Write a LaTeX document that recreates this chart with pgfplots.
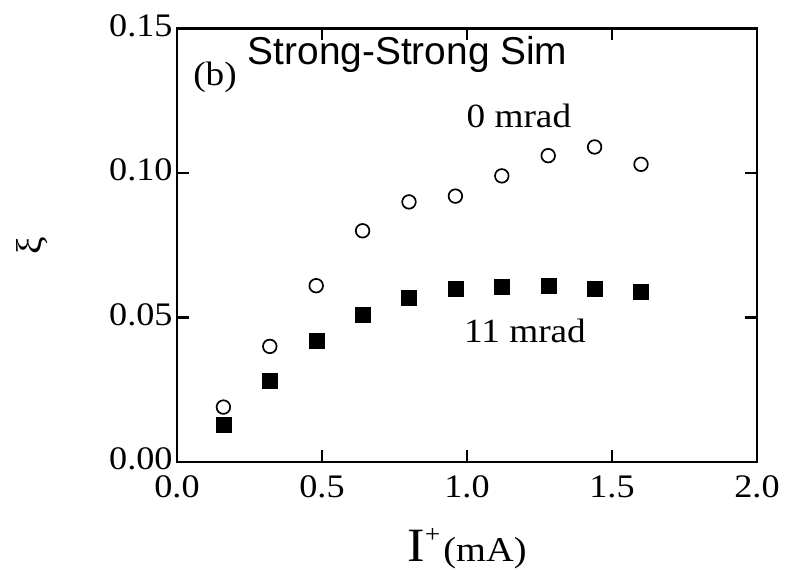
\documentclass[border=0pt]{standalone}
\usepackage{fontspec}
\setmainfont{Liberation Serif}[FakeStretch=1.1]
\newfontfamily\sansf{Liberation Sans}
\usepackage{pgfplots}
\pgfplotsset{compat=1.18}
\begin{document}
\begin{tikzpicture}[x=1bp,y=1bp]
\begin{axis}[
  at={(0,0)}, anchor=south west, scale only axis,
  width=580bp, height=433.5bp,
  xmin=0, xmax=2, ymin=0, ymax=0.15,
  clip=false,
  xtick={0,0.5,1,1.5,2},
  ytick={0,0.05,0.1,0.15},
  xticklabels={0.0,0.5,1.0,1.5,2.0},
  yticklabels={0.00,0.05,0.10,0.15},
  tick align=inside, major tick length=12bp,
  axis line style={line width=2.5bp},
  every tick/.style={line width=2.5bp, black},
  tick label style={font=\fontsize{33}{33}\selectfont},
  xticklabel style={yshift=-10bp},
  yticklabel style={yshift=3bp, xshift=-1bp},
  xlabel={{\fontsize{48}{48}\selectfont I}{\fontsize{25}{25}\selectfont\raisebox{19bp}{+}}\hspace{3bp}{\fontsize{35}{35}\selectfont (mA)}},
  xlabel style={at={(axis description cs:0.5,0)}, anchor=base, yshift=-99bp},
  ylabel={\fontsize{36}{36}\selectfont ξ},
  ylabel style={at={(axis description cs:0,0.5)}, anchor=center, yshift=145bp},
]
\addplot[only marks, mark=o, mark size=6.8bp, mark options={line width=1.7bp, black}] coordinates {
  (0.16,0.019) (0.32,0.040) (0.48,0.061) (0.64,0.080) (0.80,0.090)
  (0.96,0.092) (1.12,0.099) (1.28,0.106) (1.44,0.109) (1.60,0.103)
};
\addplot[only marks, mark=square*, mark size=7.5bp, black] coordinates {
  (0.16,0.0128) (0.32,0.028) (0.48,0.042) (0.64,0.051) (0.80,0.057)
  (0.96,0.060) (1.12,0.0606) (1.28,0.061) (1.44,0.060) (1.60,0.059)
};
\node[anchor=base, font=\fontsize{34}{34}\selectfont] at (axis cs:1.179,0.1156) {0 mrad};
\node[anchor=base, font=\fontsize{34}{34}\selectfont] at (axis cs:1.2,0.0412) {11 mrad};
\node[anchor=base, font=\fontsize{34}{34}\selectfont] at (axis cs:0.131,0.1304) {(b)};
\node[anchor=base, font=\sansf\fontsize{39}{39}\selectfont] at (axis cs:0.795,0.1374) {Strong-Strong Sim};
\end{axis}
\pgfresetboundingbox
\path[use as bounding box] (-177,-108) rectangle (608,462);
\end{tikzpicture}
\end{document}
